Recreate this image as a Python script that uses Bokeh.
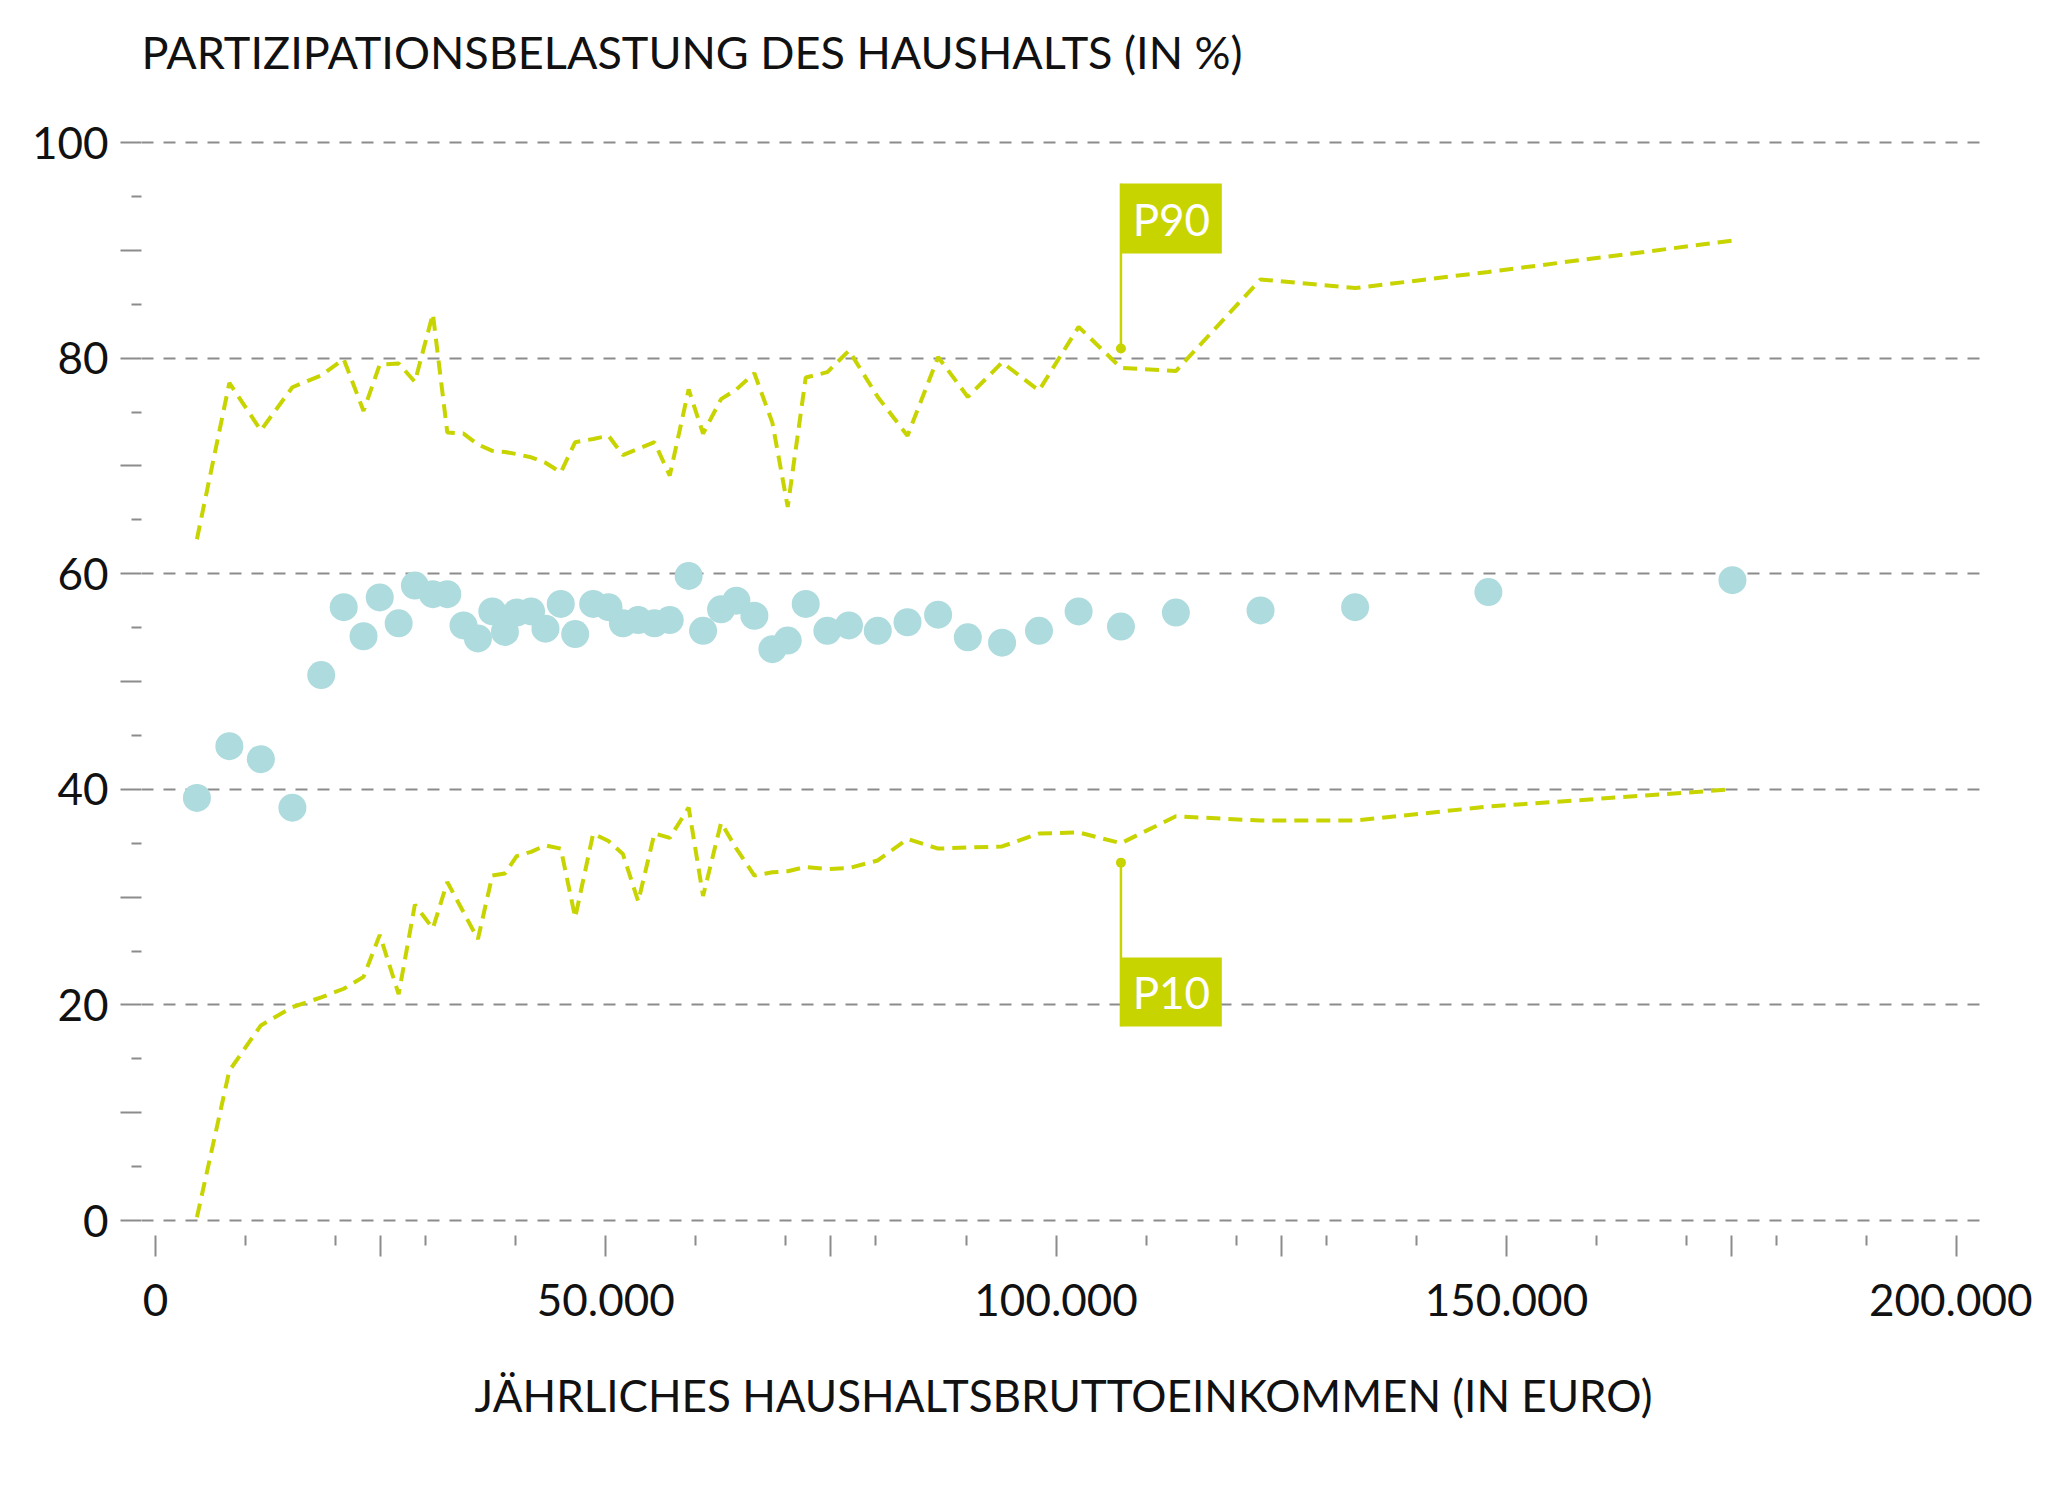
from bokeh.plotting import figure
from bokeh.models import FixedTicker, Range1d, ColumnDataSource
from bokeh.core.properties import value
from bokeh.embed import file_html
from bokeh.resources import INLINE

# ---- data ----
income = [4600, 8200, 11700, 15200, 18400, 20900, 23100, 24900, 27000, 28800,
          30800, 32400, 34200, 35800, 37400, 38800, 40100, 41700, 43300, 45000,
          46600, 48600, 50300, 51900, 53600, 55400, 57100, 59200, 60800, 62800,
          64500, 66500, 68500, 70200, 72200, 74600, 77000, 80200, 83500, 86900,
          90200, 94000, 98100, 102500, 107200, 113300, 122700, 133200, 148000, 175100]

median = [39.2, 44.0, 42.8, 38.3, 50.6, 56.9, 54.2, 57.8, 55.4, 58.9,
          58.1, 58.1, 55.2, 54.0, 56.5, 54.6, 56.4, 56.5, 54.9, 57.2,
          54.4, 57.2, 56.9, 55.4, 55.7, 55.4, 55.7, 59.8, 54.7, 56.7,
          57.5, 56.1, 53.0, 53.8, 57.2, 54.7, 55.2, 54.7, 55.5, 56.2,
          54.1, 53.6, 54.7, 56.5, 55.1, 56.4, 56.6, 56.9, 58.3, 59.4]

p90 = [63.2, 77.7, 73.3, 77.3, 78.4, 79.9, 75.1, 79.4, 79.5, 77.8,
       84.1, 73.1, 73.0, 72.0, 71.4, 71.3, 71.1, 70.8, 70.3, 69.4,
       72.2, 72.5, 72.8, 71.0, 71.6, 72.2, 69.1, 77.1, 73.0, 76.2,
       77.1, 78.6, 74.0, 66.2, 78.2, 78.7, 80.7, 76.4, 72.8, 80.1,
       76.4, 79.6, 77.0, 82.9, 79.1, 78.8, 87.3, 86.5, 88.0, 90.9]

p10 = [0.3, 13.9, 18.1, 19.8, 20.7, 21.5, 22.6, 26.5, 21.0, 29.3,
       27.1, 31.4, 28.6, 26.1, 32.0, 32.2, 33.8, 34.2, 34.8, 34.5,
       28.1, 35.9, 35.2, 34.0, 29.6, 35.9, 35.5, 38.3, 30.1, 36.9,
       34.5, 32.0, 32.3, 32.4, 32.8, 32.6, 32.7, 33.4, 35.4, 34.5,
       34.6, 34.7, 35.9, 36.0, 35.0, 37.5, 37.1, 37.1, 38.4, 40.0]

y_major = [0, 20, 40, 60, 80, 100]
x_labels = {0: "0", 50000: "50.000", 100000: "100.000", 150000: "150.000", 200000: "200.000"}

title_text = "PARTIZIPATIONSBELASTUNG DES HAUSHALTS (IN %)"
xlabel_text = "JÄHRLICHES HAUSHALTSBRUTTOEINKOMMEN (IN EURO)"

# annotation anchors
flag_x = 107200
p90_mark = 80.9
p10_mark = 33.2

# ---- styling ----
FONT = "Lato"
GREEN = "#c8d400"
DOT = "#aedbdd"
GRAY = "#8c8c8c"

X0, X1 = -1554, 203198
p = figure(width=2032, height=1473,
           x_range=Range1d(X0, X1), y_range=Range1d(-1.39, 103.9),
           output_backend="svg", toolbar_location=None,
           min_border_left=141, min_border_right=47,
           min_border_top=100, min_border_bottom=238)
p.outline_line_color = None
p.background_fill_color = "white"
p.border_fill_color = "white"

p.title.text = title_text
p.title.text_font = FONT
p.title.text_font_size = "45px"
p.title.text_font_style = "normal"
p.title.text_color = "#111111"
p.title.align = "left"
p.title.standoff = 43

# grid
p.xgrid.visible = False
p.ygrid.ticker = FixedTicker(ticks=y_major)
p.ygrid.grid_line_color = GRAY
p.ygrid.grid_line_dash = "12 10"
p.ygrid.grid_line_width = 2

# y axis
ya = p.yaxis[0]
ya.ticker = FixedTicker(ticks=list(range(0, 101, 10)), minor_ticks=list(range(5, 100, 10)))
ya.major_label_overrides = {v: "" for v in range(10, 100, 20)}
ya.axis_line_color = None
ya.major_tick_in = 0
ya.major_tick_out = 21
ya.minor_tick_in = 0
ya.minor_tick_out = 10
ya.major_tick_line_color = GRAY
ya.minor_tick_line_color = GRAY
ya.major_tick_line_width = 2
ya.minor_tick_line_width = 2
ya.major_label_text_font = FONT
ya.major_label_text_font_size = "44px"
ya.major_label_text_color = "#111111"
ya.major_label_standoff = 12

# x axis
xa = p.xaxis[0]
xmaj = list(range(0, 200001, 25000))
xmin = [v for v in range(10000, 200000, 10000) if v % 50000 != 0]
xa.ticker = FixedTicker(ticks=xmaj, minor_ticks=xmin)
ov = {v: "" for v in xmaj}
ov.update(x_labels)
xa.major_label_overrides = ov
xa.axis_line_color = None
xa.major_tick_in = 0
xa.major_tick_out = 21
xa.minor_tick_in = 0
xa.minor_tick_out = 10
xa.major_tick_line_color = GRAY
xa.minor_tick_line_color = GRAY
xa.major_tick_line_width = 2
xa.minor_tick_line_width = 2
xa.major_label_text_font = FONT
xa.major_label_text_font_size = "44px"
xa.major_label_text_color = "#111111"
xa.major_label_standoff = 27
xa.axis_label = xlabel_text
xa.axis_label_text_font = FONT
xa.axis_label_text_font_size = "44px"
xa.axis_label_text_font_style = "normal"
xa.axis_label_text_color = "#111111"
xa.axis_label_standoff = 50

src = ColumnDataSource(dict(x=income, m=median, hi=p90, lo=p10))

p.scatter("x", "m", source=src, size=28, fill_color=DOT, line_color=None)
p.line("x", "hi", source=src, line_color=GREEN, line_width=4, line_dash="14 8")
p.line("x", "lo", source=src, line_color=GREEN, line_width=4, line_dash="14 8")

# flags
box_w = 11200
p.segment(x0=[flag_x, flag_x], y0=[p90_mark, p10_mark], x1=[flag_x, flag_x], y1=[96.2, 18.0],
          line_color=GREEN, line_width=2.5)
p.scatter([flag_x, flag_x], [p90_mark, p10_mark], size=10, fill_color=GREEN, line_color=None)
p.quad(left=[flag_x, flag_x], right=[flag_x + box_w, flag_x + box_w],
       bottom=[89.7, 18.0], top=[96.2, 24.4], fill_color=GREEN, line_color=None)
p.text(x=[flag_x + box_w / 2, flag_x + box_w / 2], y=[92.95, 21.2], text=["P90", "P10"],
       text_align="center", text_baseline="middle", text_color="white",
       text_font=value(FONT), text_font_size="44px")

open("out.html", "w").write(file_html(p, INLINE))
